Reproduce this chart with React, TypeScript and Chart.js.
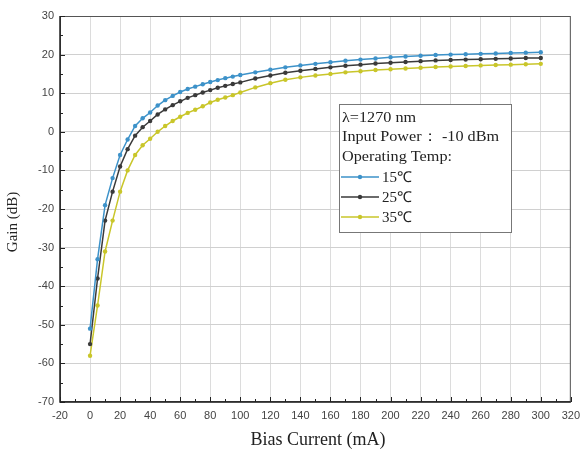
import React, { useEffect, useRef } from "react";
import { Chart, registerables } from "chart.js";

Chart.register(...registerables);

const currents = [0, 5, 10, 15, 20, 25, 30, 35, 40, 45, 50, 55, 60, 65, 70, 75, 80, 85, 90, 95, 100,
  110, 120, 130, 140, 150, 160, 170, 180, 190, 200, 210, 220, 230, 240, 250, 260, 270, 280, 290, 300];

const gain15 = [-51, -33, -19, -12, -6, -2, 1.5, 3.5, 5, 6.8, 8.2, 9.3, 10.3, 11.1, 11.7, 12.3, 12.9, 13.4, 13.9, 14.3, 14.7,
  15.4, 16.1, 16.7, 17.2, 17.6, 18, 18.4, 18.7, 19, 19.3, 19.5, 19.7, 19.9, 20, 20.1, 20.2, 20.3, 20.4, 20.5, 20.6];

const gain25 = [-55, -38, -23, -15.5, -9, -4.5, -1, 1.2, 2.8, 4.5, 5.8, 6.9, 7.9, 8.8, 9.5, 10.2, 10.8, 11.4, 11.9, 12.4, 12.8,
  13.8, 14.6, 15.3, 15.8, 16.3, 16.7, 17.1, 17.4, 17.7, 17.9, 18.1, 18.3, 18.5, 18.6, 18.7, 18.8, 18.9, 19, 19.1, 19.1];

const gain35 = [-58, -45, -31, -23, -15.5, -10, -6, -3.5, -1.8, 0, 1.5, 2.8, 3.9, 4.9, 5.7, 6.6, 7.6, 8.3, 8.9, 9.5, 10.2,
  11.5, 12.6, 13.5, 14.1, 14.6, 15, 15.4, 15.7, 16, 16.2, 16.4, 16.6, 16.8, 16.9, 17.05, 17.2, 17.3, 17.4, 17.5, 17.6];

const seriesLabels = ["15\u2103", "25\u2103", "35\u2103"];
const seriesColors = ["#3d92c9", "#3a3a3a", "#c9c62a"];
const legendHeader = ["\u03bb=1270 nm", "Input Power\uff1a -10 dBm", "Operating Temp:"];
const xTitle = "Bias Current (mA)";
const yTitle = "Gain (dB)";

const decorPlugin = {
  id: "decor",
  afterDatasetsDraw(chart: any) {
    const { ctx, chartArea: a, scales } = chart;
    const xs = scales.x;
    const ys = scales.y;
    ctx.save();
    // frame
    ctx.strokeStyle = "#555";
    ctx.lineWidth = 1;
    ctx.strokeRect(a.left + 0.5, a.top + 0.5, a.right - a.left - 1, a.bottom - a.top - 1);
    ctx.strokeStyle = "#222";
    ctx.lineWidth = 1.5;
    ctx.beginPath();
    ctx.moveTo(a.left, a.top);
    ctx.lineTo(a.left, a.bottom);
    ctx.lineTo(a.right, a.bottom);
    ctx.stroke();
    // ticks inside
    ctx.lineWidth = 1;
    ctx.strokeStyle = "#222";
    ctx.beginPath();
    for (let v = -20; v <= 320; v += 10) {
      const px = Math.round(xs.getPixelForValue(v)) + 0.5;
      const len = v % 20 === 0 ? 5 : 3;
      ctx.moveTo(px, a.bottom);
      ctx.lineTo(px, a.bottom - len);
    }
    for (let v = -70; v <= 30; v += 5) {
      const py = Math.round(ys.getPixelForValue(v)) + 0.5;
      const len = v % 10 === 0 ? 5 : 3;
      ctx.moveTo(a.left, py);
      ctx.lineTo(a.left + len, py);
    }
    ctx.stroke();
    // axis titles
    ctx.fillStyle = "#222";
    ctx.font = "18px 'Liberation Serif'";
    ctx.textAlign = "center";
    ctx.textBaseline = "middle";
    ctx.fillText(xTitle, 318, 440);
    ctx.save();
    ctx.translate(13, 222);
    ctx.rotate(-Math.PI / 2);
    ctx.font = "15px 'Liberation Serif'";
    ctx.fillText(yTitle, 0, 0);
    ctx.restore();
    // legend box
    const bx = 339, by = 104, bw = 172, bh = 128;
    ctx.fillStyle = "#ffffff";
    ctx.fillRect(bx, by, bw, bh);
    ctx.strokeStyle = "#777";
    ctx.strokeRect(bx + 0.5, by + 0.5, bw, bh);
    ctx.fillStyle = "#222";
    ctx.font = "15px 'Liberation Serif'";
    ctx.textAlign = "left";
    ctx.textBaseline = "middle";
    legendHeader.forEach((t, i) => {
      ctx.save();
      ctx.translate(bx + 3, by + 14 + i * 19.5);
      ctx.scale(1.08, 1);
      ctx.fillText(t, 0, 0);
      ctx.restore();
    });
    seriesLabels.forEach((t, i) => {
      const yy = by + 73 + i * 20;
      ctx.strokeStyle = seriesColors[i];
      ctx.lineWidth = 1.6;
      ctx.beginPath();
      ctx.moveTo(bx + 2, yy);
      ctx.lineTo(bx + 40, yy);
      ctx.stroke();
      ctx.fillStyle = seriesColors[i];
      ctx.beginPath();
      ctx.arc(bx + 21, yy, 2.2, 0, Math.PI * 2);
      ctx.fill();
      ctx.fillStyle = "#222";
      ctx.fillText(t, bx + 43, yy + 1);
    });
    ctx.restore();
  },
};

export default function App() {
  const ref = useRef<HTMLCanvasElement | null>(null);
  useEffect(() => {
    document.body.style.margin = "0";
    const canvas = ref.current!;
    const series = [gain15, gain25, gain35];
    const chart = new Chart(canvas, {
      type: "line",
      data: {
        labels: currents,
        datasets: series.map((s, i) => ({
          label: seriesLabels[i],
          data: s.map((v, j) => ({ x: currents[j], y: v })),
          borderColor: seriesColors[i],
          backgroundColor: seriesColors[i],
          borderWidth: 1.5,
          pointRadius: 2.2,
          pointHoverRadius: 2.2,
          pointBorderWidth: 0,
          tension: 0,
          order: i,
        })),
      },
      options: {
        responsive: false,
        animation: false,
        events: [],
        layout: { padding: { top: 16, right: 10, left: 0, bottom: 0 } },
        plugins: { legend: { display: false }, tooltip: { enabled: false }, title: { display: false } },
        scales: {
          x: {
            type: "linear",
            min: -20,
            max: 320,
            afterFit: (s: any) => { s.height = 50; },
            ticks: {
              stepSize: 20,
              color: "#444",
              font: { family: "'Liberation Sans'", size: 11 },
              padding: 7,
              maxRotation: 0,
              autoSkip: false,
            },
            grid: { color: "#dcdcdc", drawTicks: false, lineWidth: 1 },
            border: { display: false },
          },
          y: {
            type: "linear",
            min: -70,
            max: 30,
            afterFit: (s: any) => { s.width = 60; },
            ticks: {
              stepSize: 10,
              color: "#444",
              font: { family: "'Liberation Sans'", size: 11 },
              padding: 6,
            },
            grid: { color: "#d0d0d0", drawTicks: false, lineWidth: 1 },
            border: { display: false },
          },
        },
      },
      plugins: [decorPlugin],
    } as any);
    return () => chart.destroy();
  }, []);
  return (
    <div style={{ width: 587, height: 452, background: "#fff" }}>
      <canvas ref={ref} width={587} height={452} style={{ display: "block" }} />
    </div>
  );
}
